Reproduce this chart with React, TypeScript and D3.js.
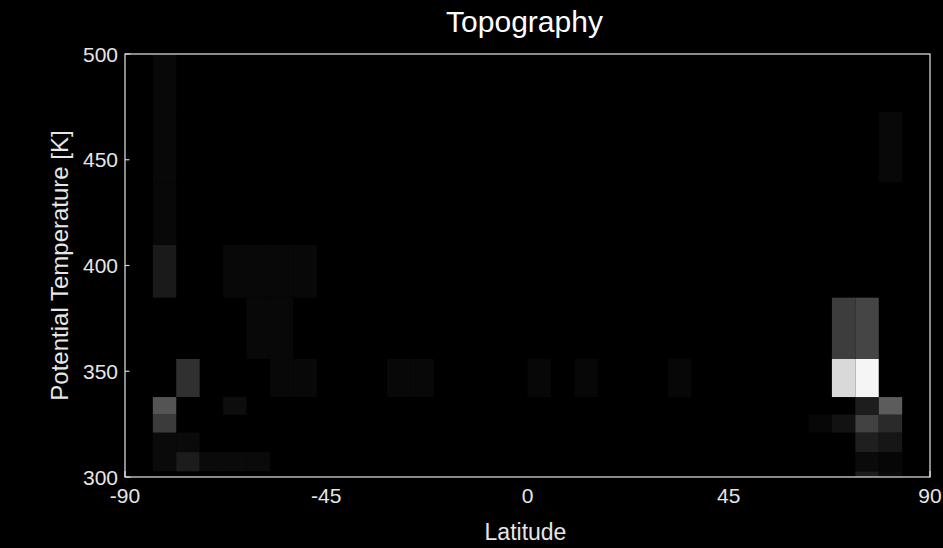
import React from "react";
import * as d3 from "d3";

// ---- Data ----
const latStep = 5.236;
// latitude grid edges (deg), 34 cells from -89 to 89
const latEdges: number[] = d3.range(-17, 18).map((k) => k * latStep);
// potential temperature grid edges (K)
const thetaEdges: number[] = [295, 302.7, 311.8, 321, 329.5, 337.8, 355.8, 384.8, 409.7, 439.4, 472.5, 505];

const xTicks: number[] = [-90, -45, 0, 45, 90];
const yTicks: number[] = [300, 350, 400, 450, 500];

// sparse cells: [latitude cell index, theta cell index, normalised value]
const topoCells: [number, number, number][] = [
  // southern high latitudes
  [1, 1, 0.04], [2, 1, 0.11], [3, 1, 0.04], [4, 1, 0.04], [5, 1, 0.04],
  [1, 2, 0.04], [2, 2, 0.04],
  [1, 3, 0.23],
  [1, 4, 0.33], [4, 4, 0.05],
  [2, 5, 0.19], [6, 5, 0.03], [7, 5, 0.03],
  [5, 6, 0.03], [6, 6, 0.03],
  [1, 7, 0.1], [4, 7, 0.03], [5, 7, 0.03], [6, 7, 0.03], [7, 7, 0.03],
  [1, 8, 0.03], [1, 9, 0.03], [1, 10, 0.03],
  // tropics / midlatitudes
  [11, 5, 0.03], [12, 5, 0.03], [17, 5, 0.028], [19, 5, 0.028], [23, 5, 0.028],
  // northern high latitudes
  [31, 0, 0.11], [32, 0, 0.04],
  [31, 1, 0.04], [32, 1, 0.025],
  [31, 2, 0.12], [32, 2, 0.085],
  [29, 3, 0.028], [30, 3, 0.07], [31, 3, 0.26], [32, 3, 0.165],
  [31, 4, 0.115], [32, 4, 0.36],
  [30, 5, 0.85], [31, 5, 0.96],
  [30, 6, 0.24], [31, 6, 0.27],
  [32, 9, 0.03],
];

const W = 943;
const H = 548;
const M = { left: 125, right: 930, top: 54, bottom: 477 };

export default function App() {
  const x = d3.scaleLinear().domain([-90, 90]).range([M.left, M.right]);
  const y = d3.scaleLinear().domain([300, 500]).range([M.bottom, M.top]);
  const gray = d3.scaleLinear<string>().domain([0, 1]).range(["#000000", "#ffffff"]);
  const font = "'Liberation Sans', Arial, Helvetica, sans-serif";
  const axisColor = "#d4d4d4";
  const textColor = "#e6e6e6";
  const imgX0 = x(latEdges[0]);
  const imgX1 = x(latEdges[latEdges.length - 1]);

  React.useEffect(() => {
    document.body.style.margin = "0";
    document.body.style.background = "#000";
  }, []);

  return (
    <svg
      width={W}
      height={H}
      style={{ position: "absolute", left: 0, top: 0, background: "#000", display: "block" }}
    >
      <defs>
        <clipPath id="plotClip">
          <rect x={M.left} y={M.top} width={M.right - M.left} height={M.bottom - M.top} />
        </clipPath>
      </defs>
      <rect x={0} y={0} width={W} height={H} fill="#000" />

      {/* ticks (drawn below image) */}
      {yTicks.map((t) => (
        <line key={"yt" + t} x1={M.left} x2={M.left + 6} y1={y(t)} y2={y(t)} stroke={axisColor} strokeWidth={1.2} />
      ))}
      {xTicks.map((t) => (
        <line key={"xt" + t} x1={x(t)} x2={x(t)} y1={M.bottom} y2={M.bottom - 6} stroke={axisColor} strokeWidth={1.4} />
      ))}

      {/* image */}
      <g clipPath="url(#plotClip)">
        <rect x={imgX0} y={M.top} width={imgX1 - imgX0} height={M.bottom - M.top} fill="#000" />
        {topoCells.map(([ci, ri, v], i) => {
          const x0 = x(latEdges[ci]);
          const x1 = x(latEdges[ci + 1]);
          const y0 = y(thetaEdges[ri + 1]);
          const y1 = y(thetaEdges[ri]);
          return <rect key={i} x={x0} y={y0} width={x1 - x0} height={y1 - y0} fill={gray(v)} />;
        })}
      </g>

      {/* box */}
      <rect
        x={M.left}
        y={M.top}
        width={M.right - M.left}
        height={M.bottom - M.top}
        fill="none"
        stroke={axisColor}
        strokeWidth={1.3}
      />

      {/* tick labels */}
      {yTicks.map((t) => (
        <text
          key={"yl" + t}
          x={M.left - 7}
          y={y(t)}
          dy="0.36em"
          textAnchor="end"
          fill={textColor}
          fontFamily={font}
          fontSize={21}
        >
          {t}
        </text>
      ))}
      {xTicks.map((t) => (
        <text
          key={"xl" + t}
          x={x(t)}
          y={M.bottom + 26}
          textAnchor="middle"
          fill={textColor}
          fontFamily={font}
          fontSize={21}
        >
          {t}
        </text>
      ))}

      {/* axis labels */}
      <text x={(M.left + M.right) / 2 - 2} y={540} textAnchor="middle" fill={textColor} fontFamily={font} fontSize={23}>
        Latitude
      </text>
      <text
        transform={`translate(68, ${(M.top + M.bottom) / 2}) rotate(-90)`}
        textAnchor="middle"
        fill={textColor}
        fontFamily={font}
        fontSize={24}
      >
        Potential Temperature [K]
      </text>

      {/* title */}
      <text x={(M.left + M.right) / 2 - 3} y={32} textAnchor="middle" fill="#ffffff" fontFamily={font} fontSize={30}>
        Topography
      </text>
    </svg>
  );
}
